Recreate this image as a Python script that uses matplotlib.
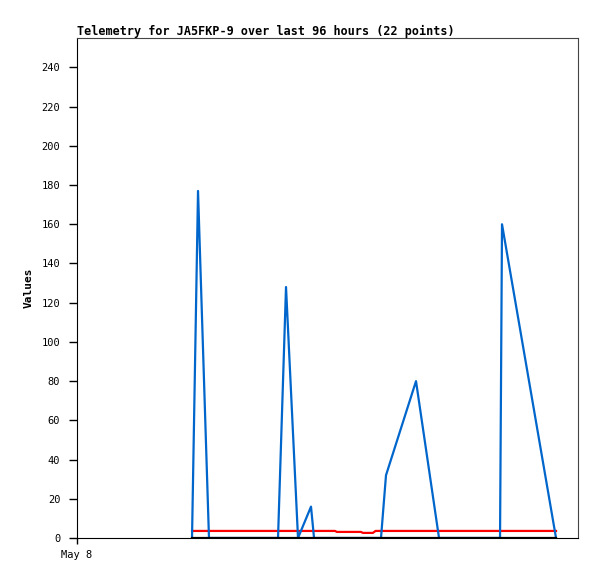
import matplotlib
matplotlib.use("Agg")
import matplotlib.pyplot as plt

# hours since the start of the 96 hour window, one entry per point (22)
hours = [22.04, 23.19, 25.29, 30.0, 38.52, 40.05, 42.35, 44.84, 45.42, 49.44, 49.8,
         54.4, 54.8, 56.7, 57.2, 58.25, 59.21, 64.96, 69.37, 81.06, 81.44, 91.79]
# main telemetry channel
values = [0, 177, 0, 0, 0, 128, 0, 16, 0, 0, 0,
          0, 0, 0, 0, 0, 32, 80, 0, 0, 160, 0]
# low, nearly flat channel
level = [3.6, 3.6, 3.6, 3.6, 3.6, 3.6, 3.6, 3.6, 3.6, 3.6, 3.1,
         3.1, 2.6, 2.6, 3.6, 3.6, 3.6, 3.6, 3.6, 3.6, 3.6, 3.6]
zero = [0] * 22

x_ticks = [0]
x_labels = ["May 8"]

plt.rcParams['font.family'] = ['DejaVu Sans Mono']

fig = plt.figure(figsize=(5.97, 5.79), dpi=100)
ax = fig.add_axes([77 / 597, 41 / 579, 501 / 597, 500 / 579])

ax.plot(hours, level, color='#ff0000', linewidth=1.6, zorder=2)
ax.plot(hours, values, color='#0066cc', linewidth=1.6, zorder=3)
ax.plot(hours, zero, color='black', linewidth=1.6, zorder=4)

ax.set_xlim(0, 96)
ax.set_ylim(0, 255)
ax.set_yticks(range(0, 241, 20))
ax.set_xticks(x_ticks)
ax.set_xticklabels(x_labels)
ax.tick_params(labelsize=7.5, length=6, width=1)
ax.tick_params(axis='y', pad=6)
ax.tick_params(axis='x', length=4, pad=5)
ax.set_ylabel("Values", fontsize=8, fontweight='bold', labelpad=6)
ax.set_title("Telemetry for JA5FKP-9 over last 96 hours (22 points)",
             fontsize=8.5, fontweight='bold', loc='left', pad=2)
for s in ['top', 'right']:
    ax.spines[s].set_color('#444444')

fig.savefig("out.png", dpi=100)
